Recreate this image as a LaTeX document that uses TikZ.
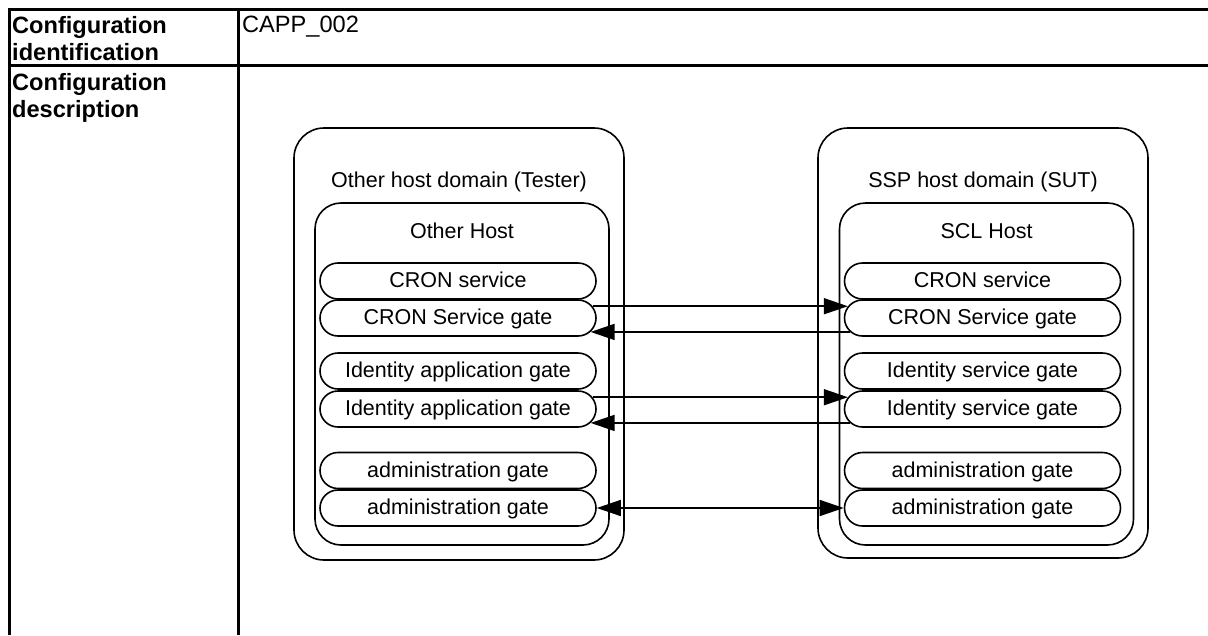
\documentclass[tikz,border=0pt]{standalone}
\usepackage{fontspec}
\setmainfont{Liberation Sans}
\usetikzlibrary{shapes.misc,arrows.meta,positioning}

\begin{document}
\begin{tikzpicture}[x=1pt,y=-1pt]
        \tikzstyle{tableline} = [line width=3pt]
        \tikzstyle{head} = [inner sep=0pt, anchor=north west, align=left, font=\fontsize{23.6}{27.5}\selectfont\bfseries]
        \tikzstyle{hostdomain} = [rectangle, rounded corners=30pt, draw, line width=1.6pt, minimum width=330pt, inner sep=0pt]
        \tikzstyle{hostbox} = [rectangle, rounded corners=26pt, draw, line width=1.6pt, minimum width=294pt, minimum height=342pt, inner sep=0pt]
        \tikzstyle{pill} = [rounded rectangle, draw, line width=1.6pt, minimum width=276pt, minimum height=36pt, inner sep=0pt, text height=16pt, text depth=3pt, font=\fontsize{21.5}{24}\selectfont]
        \tikzstyle{boxtitle} = [anchor=base, inner sep=0pt, font=\fontsize{21.5}{24}\selectfont]
        \tikzstyle{arr} = [line width=1.6pt, -{Triangle[length=24pt,width=16pt]}]

        \useasboundingbox (0,0) rectangle (1208,635);

        % table
        \draw[tableline] (9,635) -- (9,9) -- (1208,9);
        \draw[tableline] (9,65) -- (1208,65);
        \draw[tableline] (238,9) -- (238,635);
        \node[head] (idlabel) at (12,16) {Configuration\\identification};
        \node[head, font=\fontsize{23.6}{27}\selectfont] (idvalue) at (242,16) {CAPP\_002};
        \node[head] (desclabel) at (12,73) {Configuration\\description};

        % tester side
        \node[hostdomain, minimum height=432pt] (ldom) at (459,344) {};
        \node[boxtitle] (ldomtitle) at (459,187) {Other host domain (Tester)};
        \node[hostbox] (lhost) at (462,374) {};
        \node[boxtitle] (lhosttitle) at (462,238) {Other Host};
        \node[pill] (lcs) at (458,281) {CRON service};
        \node[pill] (lcg) at (458,318) {CRON Service gate};
        \node[pill] (lia) at (458,371) {Identity application gate};
        \node[pill] (lig) at (458,409) {Identity application gate};
        \node[pill] (lag) at (458,470.5) {administration gate};
        \node[pill] (laf) at (458,508) {administration gate};

        % SUT side
        \node[hostdomain, minimum height=430pt] (rdom) at (983,343) {};
        \node[boxtitle] (rdomtitle) at (983,187) {SSP host domain (SUT)};
        \node[hostbox] (rhost) at (986.5,374) {};
        \node[boxtitle] (rhosttitle) at (986.5,238) {SCL Host};
        \node[pill] (rcs) at (982.5,281) {CRON service};
        \node[pill] (rcg) at (982.5,318) {CRON Service gate};
        \node[pill] (ris) at (982.5,371) {Identity service gate};
        \node[pill] (rig) at (982.5,409) {Identity service gate};
        \node[pill] (rag) at (982.5,470.5) {administration gate};
        \node[pill] (raf) at (982.5,508) {administration gate};

        \draw[arr] (lcg.5) -- (rcg.175);
        \draw[arr] (rcg.186) -- (lcg.-6);
        \draw[arr] (lig.5) -- (rig.175);
        \draw[arr] (rig.186) -- (lig.-6);
        \draw[arr, {Triangle[length=24pt,width=16pt]}-{Triangle[length=24pt,width=16pt]}] (laf.east) -- (raf.west);
\end{tikzpicture}
\end{document}
